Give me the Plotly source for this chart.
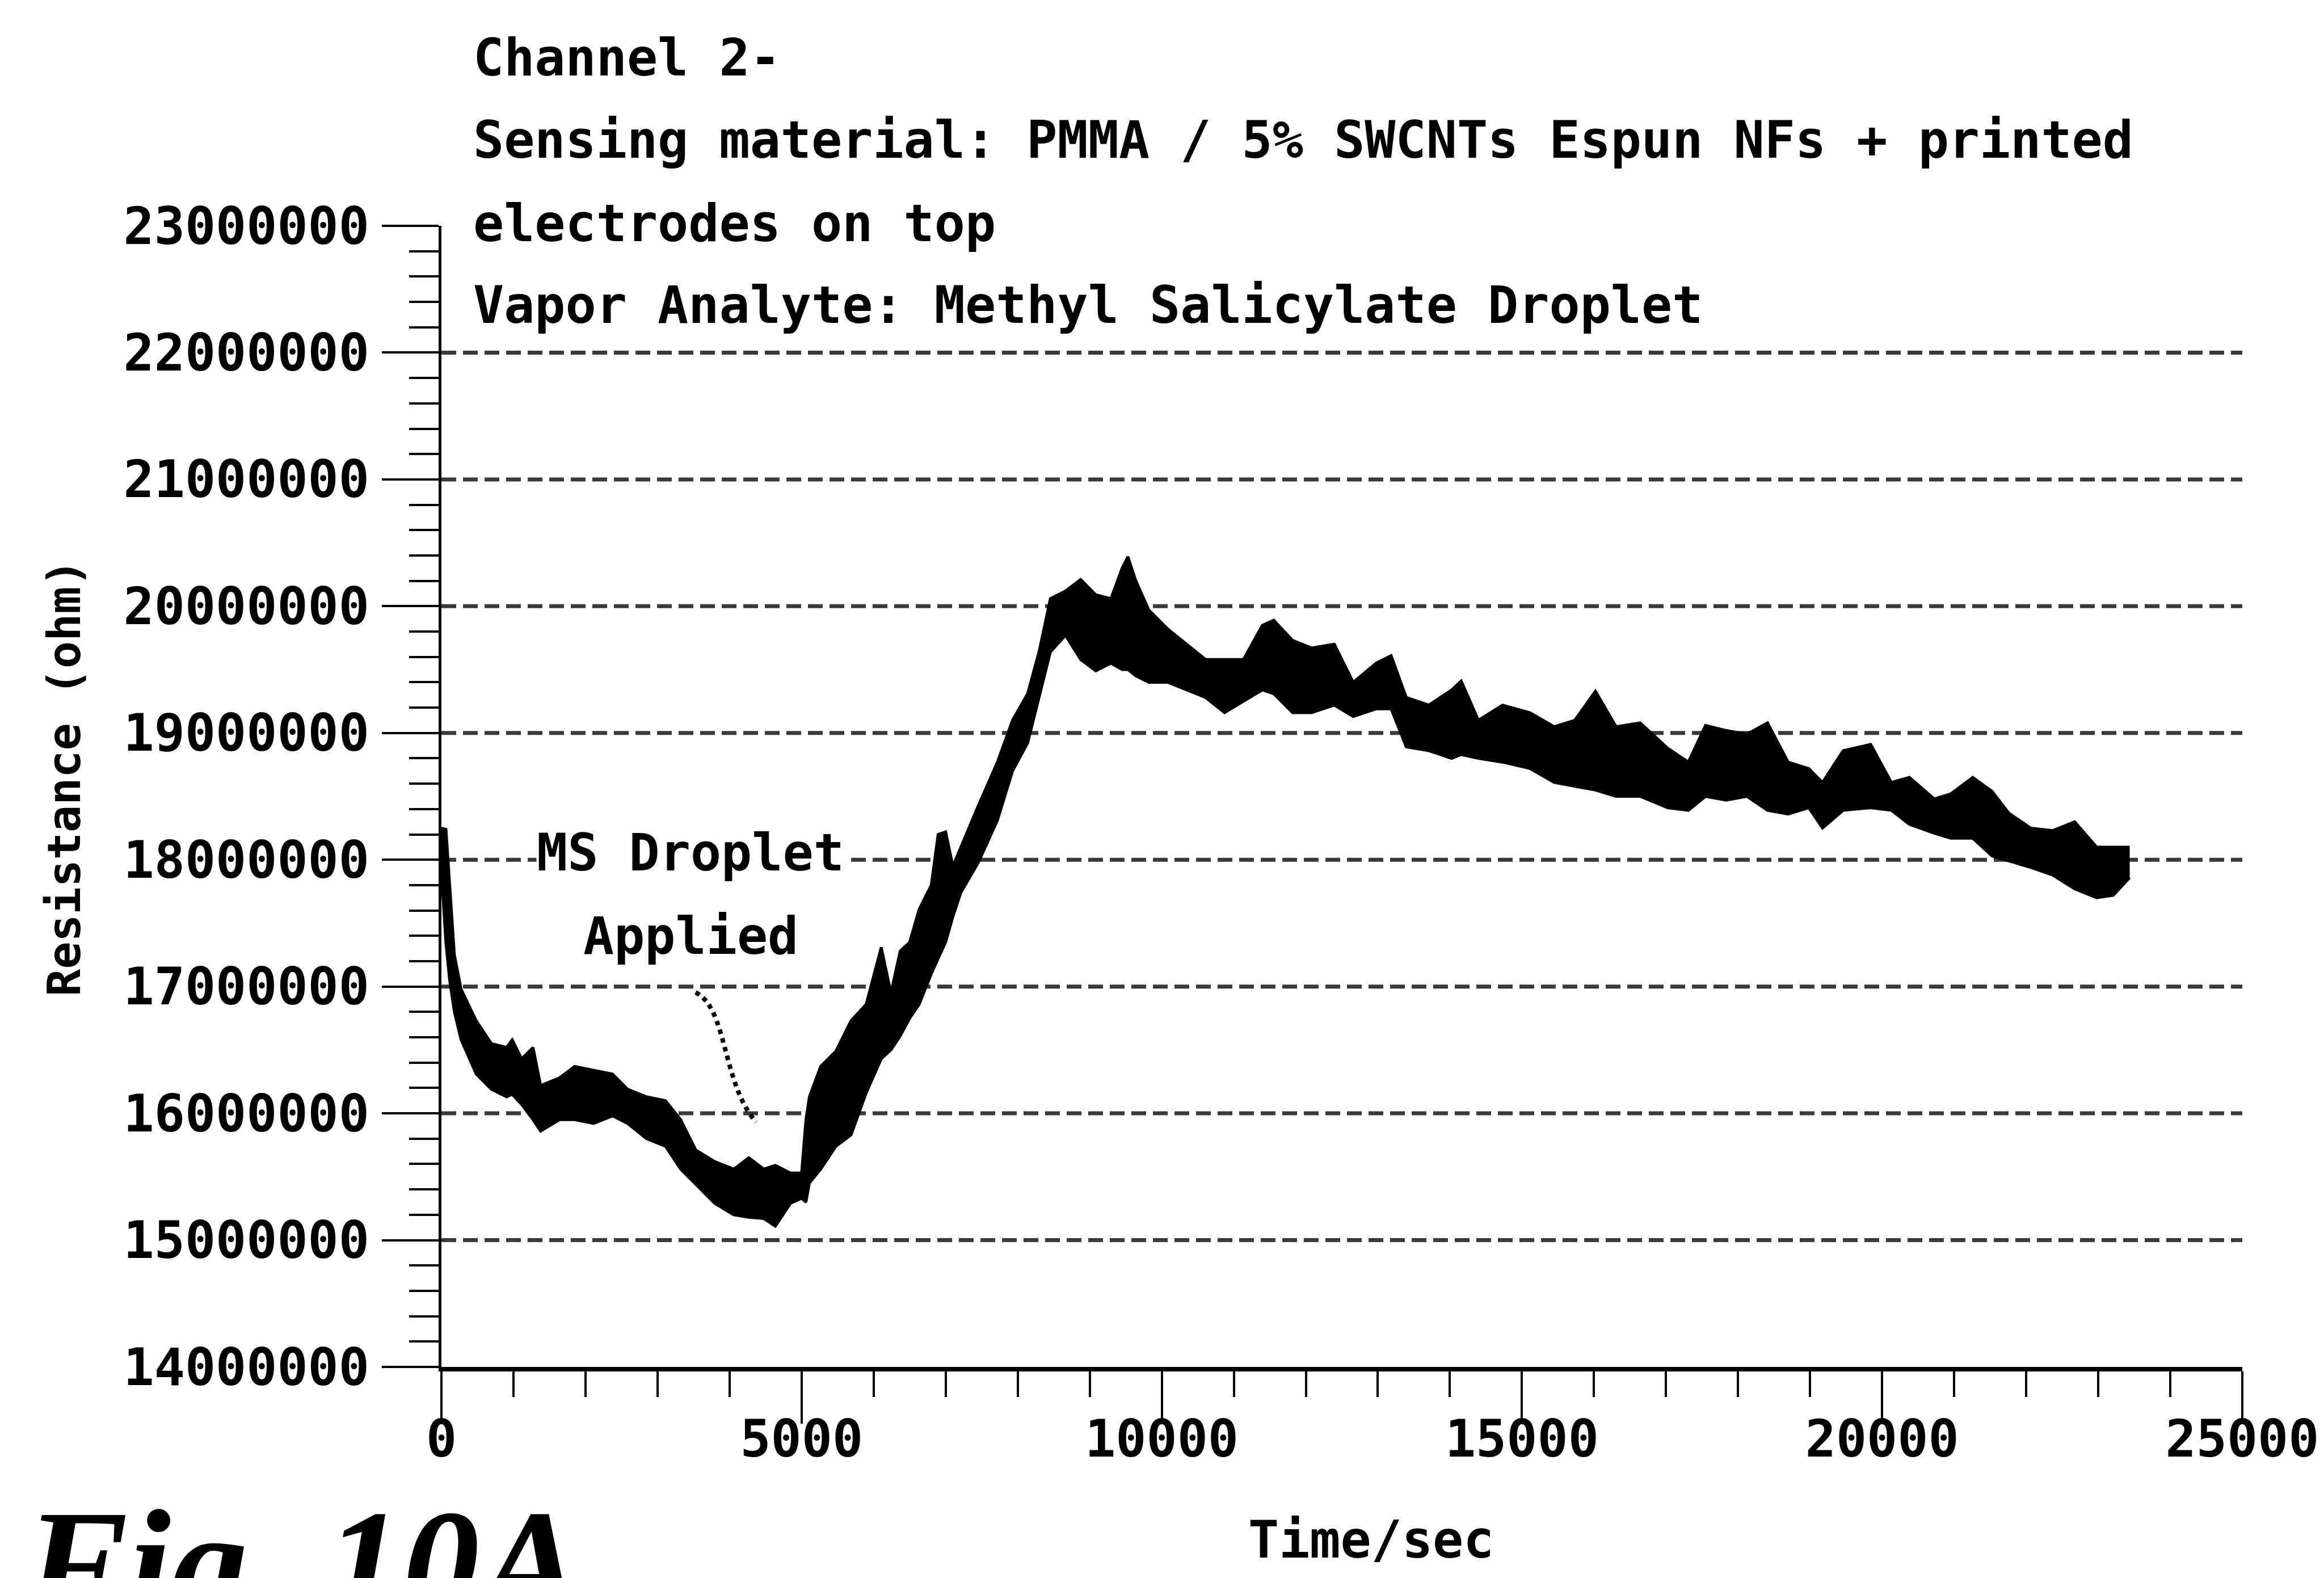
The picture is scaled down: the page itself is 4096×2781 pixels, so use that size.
import plotly.graph_objects as go

# ---------------- data ----------------
TIME_S = [0, 63, 116, 180, 273, 483, 694, 904, 983, 1114, 1272, 1377, 1640, 1850,
          2113, 2375, 2585, 2848, 3111, 3321, 3532, 3794, 4057, 4267, 4477, 4635,
          4845, 5000, 5060, 5108, 5265, 5476, 5686, 5896, 6106, 6240, 6369, 6500,
          6632, 6800, 6895, 7000, 7100, 7210, 7455, 7718, 7928, 8138, 8296, 8454,
          8664, 8874, 9084, 9294, 9450, 9530, 9640, 9820, 10083, 10346, 10608,
          10871, 11134, 11397, 11554, 11817, 12080, 12395, 12658, 12974, 13184,
          13394, 13709, 14024, 14157, 14396, 14730, 15112, 15447, 15733, 16020,
          16307, 16641, 17023, 17310, 17549, 17835, 18122, 18409, 18695, 18982,
          19173, 19459, 19841, 20128, 20379, 20723, 20953, 21258, 21526, 21755,
          22061, 22367, 22673, 22978, 23208, 23437]

# lower / upper edge of the noisy resistance trace, in megaohm
RES_LOW_MOHM = [17.90, 17.34, 17.04, 16.80, 16.58, 16.31, 16.19, 16.13, 16.15, 16.07,
                15.95, 15.86, 15.95, 15.95, 15.92, 15.98, 15.92, 15.80, 15.74, 15.56,
                15.44, 15.29, 15.20, 15.18, 15.17, 15.11, 15.29, 15.33, 15.30, 15.45,
                15.56, 15.74, 15.83, 16.16, 16.43, 16.50, 16.61, 16.75, 16.86, 17.10,
                17.22, 17.35, 17.55, 17.74, 17.98, 18.31, 18.70, 18.92, 19.28, 19.64,
                19.77, 19.58, 19.49, 19.55, 19.50, 19.50, 19.45, 19.40, 19.40, 19.34,
                19.28, 19.16, 19.25, 19.34, 19.31, 19.16, 19.16, 19.22, 19.13, 19.19,
                19.19, 18.89, 18.86, 18.80, 18.83, 18.80, 18.77, 18.72, 18.61, 18.58,
                18.55, 18.50, 18.50, 18.41, 18.39, 18.50, 18.47, 18.50, 18.39, 18.36,
                18.41, 18.25, 18.39, 18.41, 18.39, 18.28, 18.21, 18.17, 18.17, 18.03,
                17.99, 17.94, 17.88, 17.77, 17.70, 17.72, 17.86]

RES_HIGH_MOHM = [18.25, 18.24, 17.79, 17.25, 16.98, 16.73, 16.55, 16.52, 16.58, 16.43,
                 16.52, 16.22, 16.28, 16.37, 16.34, 16.31, 16.19, 16.13, 16.10, 15.95,
                 15.71, 15.62, 15.56, 15.65, 15.56, 15.59, 15.53, 15.53, 15.95, 16.13,
                 16.37, 16.49, 16.73, 16.86, 17.31, 16.95, 17.28, 17.35, 17.61, 17.80,
                 18.20, 18.22, 17.95, 18.10, 18.43, 18.77, 19.10, 19.31, 19.64, 20.06,
                 20.12, 20.21, 20.09, 20.06, 20.30, 20.39, 20.20, 19.97, 19.82, 19.70,
                 19.58, 19.58, 19.58, 19.85, 19.89, 19.73, 19.67, 19.70, 19.40, 19.55,
                 19.61, 19.28, 19.22, 19.34, 19.41, 19.10, 19.22, 19.16, 19.05, 19.10,
                 19.33, 19.05, 19.08, 18.88, 18.77, 19.06, 19.02, 18.99, 19.08, 18.77,
                 18.72, 18.61, 18.86, 18.91, 18.61, 18.65, 18.48, 18.52, 18.65, 18.54,
                 18.37, 18.25, 18.23, 18.30, 18.10, 18.10, 18.10]

Y_RANGE = [14000000, 23000000]
X_RANGE = [0, 25000]
GRID_VALUES = [15000000, 16000000, 17000000, 18000000, 19000000, 20000000,
               21000000, 22000000]

TITLE_LINES = ["Channel 2-",
               "Sensing material: PMMA / 5% SWCNTs Espun NFs + printed",
               "electrodes on top",
               "Vapor Analyte: Methyl Salicylate Droplet"]
NOTE_LINES = ["MS Droplet", "Applied"]
X_TITLE = "Time/sec"
Y_TITLE = "Resistance (ohm)"
FIG_LABEL = "Fig. 10A"

# ---------------- layout geometry ----------------
W, H = 4096, 2781
L, R, T, B = 770, 152, 390, 380
PW, PH = W - L - R, H - T - B


def px(x):
    return (x - L) / PW


def py(y):
    return (H - B - y) / PH


MONO = "DejaVu Sans Mono"
FS = 90

res_low = [v * 1e6 for v in RES_LOW_MOHM]
res_high = [v * 1e6 for v in RES_HIGH_MOHM]

fig = go.Figure()
fig.add_trace(go.Scatter(x=TIME_S, y=res_low, mode="lines",
                         line=dict(color="black", width=5), showlegend=False,
                         hoverinfo="skip"))
fig.add_trace(go.Scatter(x=TIME_S, y=res_high, mode="lines", fill="tonexty",
                         fillcolor="black", line=dict(color="black", width=5),
                         showlegend=False))

shapes = []
for g in GRID_VALUES:
    shapes.append(dict(type="line", xref="paper", x0=0, x1=1, yref="y", y0=g, y1=g,
                       line=dict(color="#3a3a3a", width=7, dash="26px,12px"),
                       layer="below"))

# curved dotted leader from the note to the curve
shapes.append(dict(type="path", xref="x", yref="y",
                   path="M 3528,16953000 C 3970,16834000 3895,16238000 4367,15932000",
                   line=dict(color="black", width=8, dash="dot")))

annotations = []
title_y = [93, 238, 385, 530]
for txt, yy in zip(TITLE_LINES, title_y):
    annotations.append(dict(text=txt, xref="paper", yref="paper", x=px(824), y=py(yy),
                            xanchor="left", yanchor="middle", showarrow=False,
                            font=dict(family=MONO, size=FS, color="black", weight="bold")))

annotations.append(dict(text=NOTE_LINES[0], xref="x", yref="y", x=3461, y=18055000,
                        xanchor="center", yanchor="middle", showarrow=False,
                        bgcolor="white", borderpad=0,
                        font=dict(family=MONO, size=FS, color="black", weight="bold")))
annotations.append(dict(text=NOTE_LINES[1], xref="x", yref="y", x=3461, y=17400000,
                        xanchor="center", yanchor="middle", showarrow=False,
                        font=dict(family=MONO, size=FS, color="black", weight="bold")))

annotations.append(dict(text=X_TITLE, xref="paper", yref="paper", x=px(2408), y=py(2705),
                        xanchor="center", yanchor="middle", showarrow=False,
                        font=dict(family=MONO, size=FS, color="black", weight="bold")))
annotations.append(dict(text=Y_TITLE, xref="paper", yref="paper", x=px(105), y=py(1363),
                        xanchor="center", yanchor="middle", showarrow=False, textangle=-90,
                        font=dict(family=MONO, size=80, color="black", weight="bold")))
annotations.append(dict(text="<b><i>" + FIG_LABEL + "</i></b>", xref="paper", yref="paper",
                        x=px(30), y=py(2596), xanchor="left", yanchor="top",
                        showarrow=False,
                        font=dict(family="Liberation Serif", size=272, color="black")))

tickfont = dict(family=MONO, size=FS, color="black", weight="bold")

fig.update_layout(
    width=W, height=H,
    margin=dict(l=L, r=R, t=T, b=B, pad=0),
    paper_bgcolor="white", plot_bgcolor="white",
    shapes=shapes, annotations=annotations,
    xaxis=dict(range=X_RANGE, tick0=0, dtick=5000, tickformat="d",
               showgrid=False, zeroline=False,
               showline=True, linecolor="black", linewidth=8,
               ticks="outside", ticklen=92, tickwidth=4, tickcolor="black",
               tickfont=tickfont, ticklabelstandoff=-50,
               minor=dict(dtick=1000, ticks="outside", ticklen=45, tickwidth=4,
                          tickcolor="black", showgrid=False)),
    yaxis=dict(range=Y_RANGE, tick0=14000000, dtick=1000000, tickformat="d",
               showgrid=False, zeroline=False,
               showline=True, linecolor="black", linewidth=5,
               ticks="outside", ticklen=100, tickwidth=4, tickcolor="black",
               tickfont=tickfont, ticklabelstandoff=4,
               minor=dict(dtick=200000, ticks="outside", ticklen=52, tickwidth=4,
                          tickcolor="black", showgrid=False)),
)

fig.write_html("out.html")
